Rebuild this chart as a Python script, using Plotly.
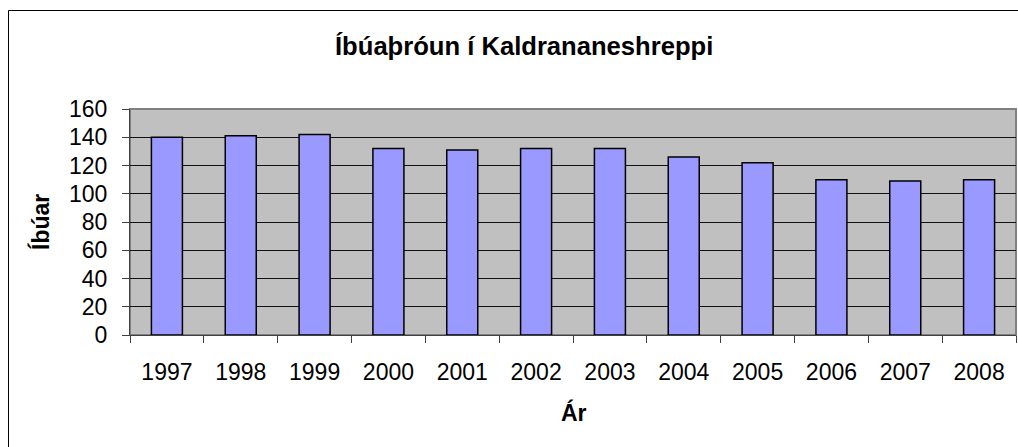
import plotly.graph_objects as go

years = ["1997", "1998", "1999", "2000", "2001", "2002", "2003", "2004", "2005", "2006", "2007", "2008"]
residents = [140, 141, 142, 132, 131, 132, 132, 126, 122, 110, 109, 110]
y_ticks = [0, 20, 40, 60, 80, 100, 120, 140, 160]

title_text = "Íbúaþróun í Kaldrananeshreppi"
y_title = "Íbúar"
x_title = "Ár"

W, H = 1018, 447
L, R, T, B = 130, 2, 109, 447 - 335
pw, ph = W - L - R, H - T - B

def px(x):
    return (x - L) / pw

def py(y):
    return (H - B - y) / ph

FONT = "Liberation Sans, Arial, sans-serif"

fig = go.Figure(go.Bar(
    x=years, y=residents,
    marker=dict(color="#9999FF", line=dict(color="#000000", width=1.5)),
    width=0.42,
))

fig.update_layout(
    width=W, height=H,
    margin=dict(l=L, r=R, t=T, b=B, autoexpand=False),
    paper_bgcolor="white",
    plot_bgcolor="#C0C0C0",
    font=dict(family=FONT, size=23, color="black"),
    showlegend=False,
    xaxis=dict(
        type="category",
        ticks="outside", tickson="boundaries", ticklen=7, tickcolor="#404040",
        showline=True, linecolor="#404040", linewidth=1,
        showgrid=False, ticklabelstandoff=16,
        tickfont=dict(size=23),
    ),
    yaxis=dict(
        range=[0, 160], tickvals=y_ticks,
        ticks="outside", ticklen=7, tickcolor="#404040",
        showline=True, linecolor="#404040", linewidth=1,
        showgrid=True, gridcolor="#111111", gridwidth=1,
        zeroline=False, ticklabelstandoff=10,
        tickfont=dict(size=23),
    ),
    annotations=[
        dict(text="<b>" + title_text + "</b>", x=px(523.5), y=py(46), xref="paper", yref="paper",
             showarrow=False, xanchor="center", yanchor="middle", font=dict(size=25.6)),
        dict(text="<b>" + y_title + "</b>", x=px(40), y=py(222), xref="paper", yref="paper",
             showarrow=False, xanchor="center", yanchor="middle", textangle=-90, font=dict(size=23)),
        dict(text="<b>" + x_title + "</b>", x=px(574), y=py(413), xref="paper", yref="paper",
             showarrow=False, xanchor="center", yanchor="middle", font=dict(size=23)),
    ],
    shapes=[
        dict(type="rect", xref="paper", yref="paper", x0=0, x1=1, y0=0, y1=1,
             line=dict(color="#808080", width=2), layer="below"),
        dict(type="rect", xref="paper", yref="paper", x0=px(8.5), x1=px(1040), y0=py(470), y1=py(10.5),
             line=dict(color="black", width=1), layer="above"),
    ],
)

fig.write_html(
    "out.html",
    config={"displayModeBar": False},
    post_script="document.body.style.margin='0';document.body.style.overflow='hidden';",
)
